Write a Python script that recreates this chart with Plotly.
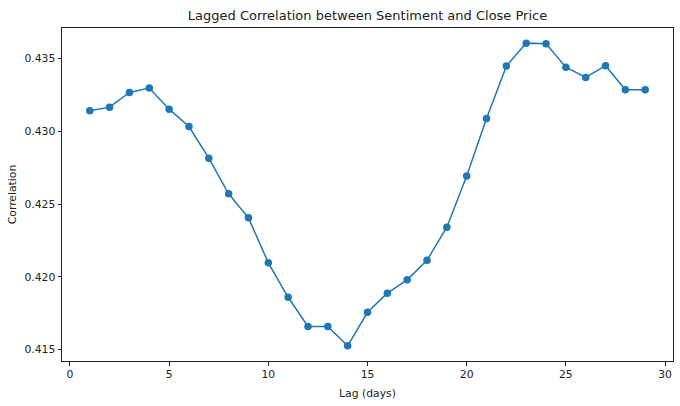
import plotly.graph_objects as go

lags = list(range(1, 30))
correlation = [0.43142, 0.43167, 0.43268, 0.43298, 0.43153, 0.43034, 0.42816, 0.42571,
               0.42406, 0.42097, 0.41860, 0.41659, 0.41659, 0.41526, 0.41757, 0.41888,
               0.41980, 0.42115, 0.42342, 0.42693, 0.43089, 0.43449, 0.43607, 0.43603,
               0.43442, 0.43371, 0.43452, 0.43287, 0.43287]
x_ticks = [0, 5, 10, 15, 20, 25, 30]
y_ticks = [0.415, 0.420, 0.425, 0.430, 0.435]

title_text = "Lagged Correlation between Sentiment and Close Price"
x_label = "Lag (days)"
y_label = "Correlation"

font_family = "DejaVu Sans"

fig = go.Figure()
fig.add_trace(go.Scatter(
    x=lags, y=correlation, mode="lines+markers",
    line=dict(color="#1f77b4", width=1.5),
    marker=dict(color="#1f77b4", size=7.5),
    showlegend=False,
))

axis_common = dict(
    showline=True, linecolor="#222", linewidth=1, mirror=True,
    showgrid=False, zeroline=False, automargin=False,
    ticks="outside", ticklen=3.5, tickwidth=1, tickcolor="#222",
    tickfont=dict(family=font_family, size=10.8, color="#222"),
)

fig.update_layout(
    width=680, height=406,
    margin=dict(l=62, r=7, t=28, b=45),
    paper_bgcolor="white", plot_bgcolor="white",
    font=dict(family=font_family, color="#222"),
    hovermode=False,
    title=dict(text=title_text, x=(62 + 673) / 2 / 680, xanchor="center",
               y=1 - 15 / 406, yanchor="middle",
               font=dict(family=font_family, size=13, color="#222")),
    xaxis=dict(range=[-0.4, 30.4], tickvals=x_ticks,
               title=dict(text=x_label, standoff=8,
                          font=dict(family=font_family, size=10.8, color="#222")),
               **axis_common),
    yaxis=dict(range=[0.41422, 0.43711], tickvals=y_ticks, tickformat=".3f",
               title=dict(text=y_label, standoff=5,
                          font=dict(family=font_family, size=10.8, color="#222")),
               **axis_common),
)

fig.write_html("out.html", config={"displayModeBar": False},
               post_script="document.body.style.margin='0';")
